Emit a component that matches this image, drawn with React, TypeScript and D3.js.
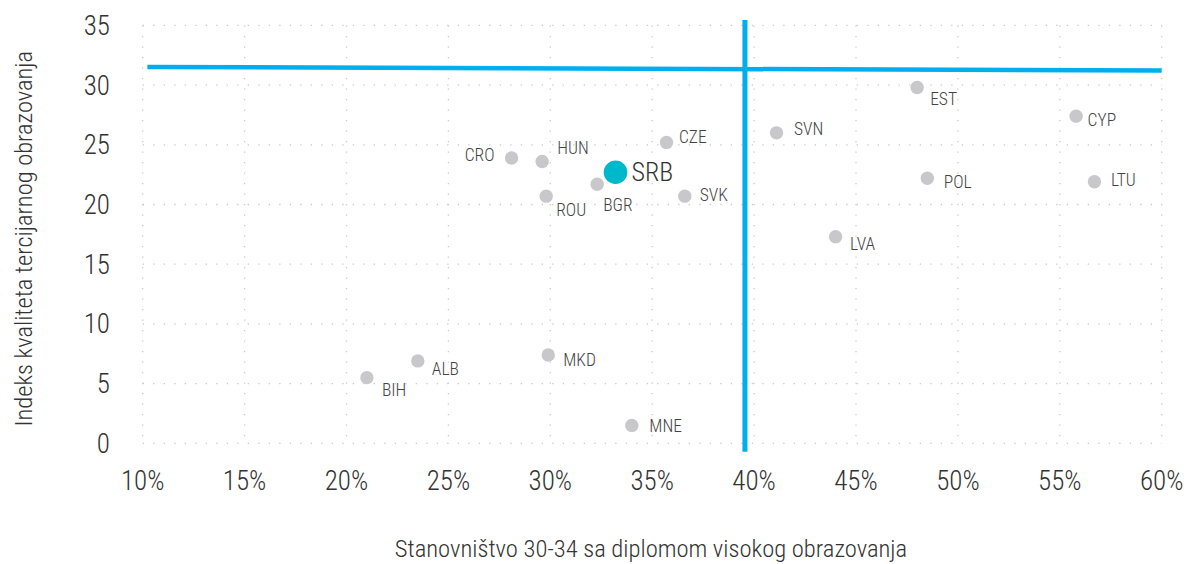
import React from "react";
import * as d3 from "d3";

const countries = ["BIH", "ALB", "MKD", "MNE", "CRO", "HUN", "ROU", "BGR", "CZE", "SVK", "SVN", "LVA", "EST", "POL", "CYP", "LTU"];
const tertiaryShare = [0.210, 0.235, 0.299, 0.340, 0.281, 0.296, 0.298, 0.323, 0.357, 0.366, 0.411, 0.440, 0.480, 0.485, 0.558, 0.567];
const qualityIndex = [5.5, 6.9, 7.4, 1.5, 23.9, 23.6, 20.7, 21.7, 25.2, 20.7, 26.0, 17.3, 29.8, 22.2, 27.4, 21.9];
// label offsets (dx, dy) in px relative to the point, and anchor
const labelDx = [15, 14, 15, 17.5, -17, 15, 10, 6, 12.5, 15, 17.5, 14.5, 13, 16.5, 11.5, 16.5];
const labelDy = [18.5, 14.5, 11.5, 6.5, 3.5, -7.5, 20, 27, 0.5, 5, 2.5, 13.5, 18, 10, 10, 4];
const labelAnchor = ["start", "start", "start", "start", "end", "start", "start", "start", "start", "start", "start", "start", "start", "start", "start", "start"];

const highlight = { name: "SRB", x: 0.332, y: 22.7 };
const xTicks = [0.10, 0.15, 0.20, 0.25, 0.30, 0.35, 0.40, 0.45, 0.50, 0.55, 0.60];
const yTicks = [0, 5, 10, 15, 20, 25, 30, 35];
const hLine = [{ x: 0.1023, y: 31.52 }, { x: 0.60, y: 31.22 }];
const vLine = [{ x: 0.3955, y: 35.45 }, { x: 0.3955, y: -0.7 }];

const xTitle = "Stanovništvo 30-34 sa diplomom visokog obrazovanja";
const yTitle = "Indeks kvaliteta tercijarnog obrazovanja";

const FONT = "'Roboto Condensed', 'Roboto', sans-serif";
const BLUE = "#00aeef";

export default function App() {
  const x = d3.scaleLinear().domain([0.10, 0.60]).range([142.7, 1161.7]);
  const y = d3.scaleLinear().domain([0, 35]).range([443.3, 25.4]);
  const fmt = d3.format(".0%");
  const line = d3.line<{ x: number; y: number }>().x(d => x(d.x)).y(d => y(d.y));

  return (
    <svg width={1190} height={564} style={{ position: "absolute", left: 0, top: 0, background: "#fff" }} fontFamily={FONT}>
      {/* gridlines */}
      <g stroke="#c9c9c9" strokeWidth={1.3} strokeDasharray="1.3 9.2" fill="none">
        {xTicks.map(t => (
          <line key={"gx" + t} x1={x(t)} x2={x(t)} y1={y(35)} y2={y(0)} />
        ))}
        {yTicks.map(t => (
          <line key={"gy" + t} x1={x(0.10)} x2={x(0.60)} y1={y(t)} y2={y(t)} />
        ))}
      </g>
      {/* y tick labels */}
      <g fontSize={27} fontWeight={300} fill="#333" textAnchor="end">
        {yTicks.map(t => (
          <text key={"ty" + t} x={110} y={y(t)} dy="0.35em">{t}</text>
        ))}
      </g>
      {/* x tick labels */}
      <g fontSize={27} fontWeight={300} fill="#333" textAnchor="middle">
        {xTicks.map(t => (
          <text key={"tx" + t} x={x(t)} y={490}>{fmt(t)}</text>
        ))}
      </g>
      {/* axis titles */}
      <text x={651} y={557} textAnchor="middle" fontSize={24.6} fontWeight={300} fill="#333">{xTitle}</text>
      <text transform={`translate(32, 238.7) rotate(-90)`} textAnchor="middle" fontSize={24.5} fontWeight={300} fill="#333">{yTitle}</text>

      {/* reference lines */}
      <path d={line(hLine) || ""} stroke={BLUE} strokeWidth={4.5} fill="none" />
      <path d={line(vLine) || ""} stroke={BLUE} strokeWidth={5} fill="none" />

      {/* points */}
      <g>
        {countries.map((c, i) => (
          <circle key={"p" + c} cx={x(tertiaryShare[i])} cy={y(qualityIndex[i])} r={6.7} fill="#c8c8ca" />
        ))}
      </g>
      <g fontSize={17.5} fontWeight={300} fill="#444">
        {countries.map((c, i) => (
          <text key={"l" + c} x={x(tertiaryShare[i]) + labelDx[i]} y={y(qualityIndex[i]) + labelDy[i]} textAnchor={labelAnchor[i] as any}>{c}</text>
        ))}
      </g>
      <circle cx={x(highlight.x)} cy={y(highlight.y)} r={11.8} fill="#00b8cc" />
      <text x={x(highlight.x) + 16} y={y(highlight.y) + 9} fontSize={26} fontWeight={300} fill="#333">{highlight.name}</text>
    </svg>
  );
}
